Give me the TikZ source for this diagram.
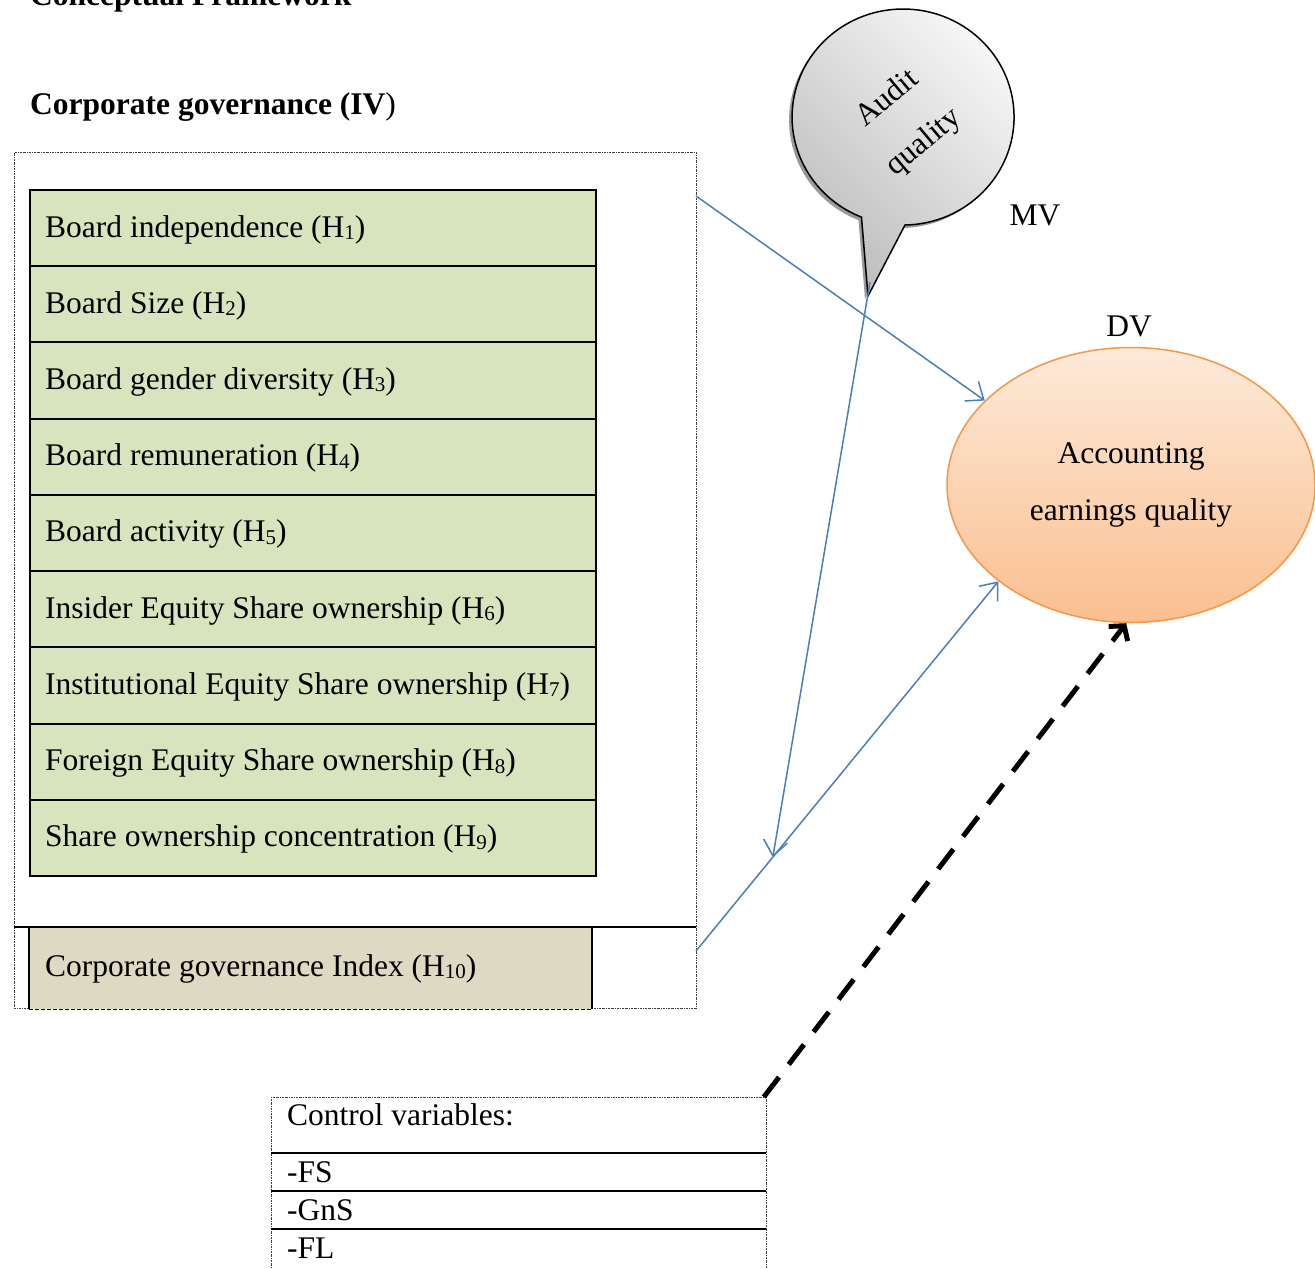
\documentclass[tikz,border=0pt]{standalone}
\usepackage{fontspec}
\setmainfont{Liberation Serif}
\usetikzlibrary{arrows.meta,shapes.geometric,calc}
\definecolor{cgreen}{HTML}{D7E4BD}
\definecolor{ctan}{HTML}{DDD9C3}
\definecolor{cblue}{HTML}{4A7EBB}
\definecolor{corange}{HTML}{F79646}
\definecolor{cpeachtop}{HTML}{FDEADA}
\definecolor{cpeachbot}{HTML}{FABF8F}
\newcommand\hsub[1]{\raisebox{-2.5pt}{\fontsize{21}{21}\selectfont #1}}
\tikzset{
  framestyle/.style={draw=black!75, line width=0.8pt, dash pattern=on 2pt off 1pt on 0.6pt off 1pt},
  varbox/.style={draw=black, line width=2pt, fill=cgreen, minimum width=566pt, minimum height=76.22pt, inner sep=0pt, anchor=north west},
  lbl/.style={anchor=base west, inner sep=0pt},
  barrow/.style={draw=cblue, line width=1.5pt, -{Straight Barb[length=15pt,width=24pt]}},
  dasharrow/.style={draw=black, line width=5pt, dash pattern=on 25pt off 16pt, -{Straight Barb[length=10pt,width=24pt]}},
  rule/.style={line width=2pt}
}
\begin{document}
\begin{tikzpicture}[x=1pt,y=-1pt,font=\fontsize{31.5}{38}\selectfont]
\useasboundingbox (0,0) rectangle (1315,1269);
% titles
\node[lbl,font=\fontsize{31.5}{38}\selectfont\bfseries] (title) at (30,5) {Conceptual Framework};
\node[lbl] (iv) at (30,114) {\textbf{Corporate governance (IV})};
% outer frame
\node[framestyle, minimum width=682pt, minimum height=856pt, anchor=north west, inner sep=0pt] (frame) at (14,152) {};
% variable boxes
\foreach \i/\txt in {1/Board independence (H\hsub{1}),
                     2/Board Size (H\hsub{2}),
                     3/Board gender diversity (H\hsub{3}),
                     4/Board remuneration (H\hsub{4}),
                     5/Board activity (H\hsub{5}),
                     6/Insider Equity Share ownership (H\hsub{6}),
                     7/Institutional Equity Share ownership (H\hsub{7}),
                     8/Foreign Equity Share ownership (H\hsub{8}),
                     9/Share ownership concentration (H\hsub{9})}{
  \node[varbox] (b\i) at (29,{189+(\i-1)*76.22}) {};
  \node[lbl] (t\i) at (45,{189+(\i-1)*76.22+48}) {\txt};
}
% index row
\draw[rule] (14,927) -- (696,927);
\node[fill=ctan, minimum width=563pt, minimum height=81pt, anchor=north west, inner sep=0pt] (idx) at (29,928) {};
\draw[rule] (idx.north west) -- (idx.south west);
\draw[rule] (idx.north east) -- (idx.south east);
\draw[line width=1.5pt, dash pattern=on 4pt off 2pt] (idx.south west) -- (idx.south east);
\node[lbl] (tidx) at (45,976) {Corporate governance Index (H\hsub{10})};
% speech bubble (shadow, then body)
\fill[black!40]
  (902,228) arc[start angle=89, end angle=-248, x radius=111, y radius=108] -- (865,299) -- cycle;
\shade[left color=black!26, right color=black!4, shading angle=135, draw=black, line width=1.5pt]
  (905,225) arc[start angle=89, end angle=-248, x radius=111, y radius=108] -- (868,296) -- cycle;
\node[rotate=40, align=center, font=\fontsize{31.5}{57}\selectfont] (aq) at (906,121) {Audit\\quality};
\coordinate (tip) at (870,282);
\node (mv) at (1035,215) {MV};
\node (dv) at (1129,326) {DV};
% dependent variable
\node[ellipse, draw=corange, line width=1.5pt, top color=cpeachtop, bottom color=cpeachbot,
      minimum width=368pt, minimum height=275pt, inner sep=0pt, align=center,
      font=\fontsize{31.5}{57}\selectfont] (aeq) at (1131,485) {Accounting\\earnings quality};
% connectors
\coordinate (s1) at (696,196);
\coordinate (s3) at (696,951);
\draw[barrow] (s1) -- (aeq.150);
\draw[barrow] (s3) -- (aeq.216);
\coordinate (meet) at ($(s3)!0.254!(aeq.216)$);
\draw[barrow] (tip) -- (meet);
% control variables
\node[framestyle, minimum width=495pt, minimum height=200pt, anchor=north west, inner sep=0pt] (ctrl) at (271,1097) {};
\draw[rule] (271,1153) -- (766,1153);
\draw[rule] (271,1191) -- (766,1191);
\draw[rule] (271,1229) -- (766,1229);
\node[lbl] (c0) at (287,1125) {Control variables:};
\node[lbl] (c1) at (287,1182) {-FS};
\node[lbl] (c2) at (287,1220) {-GnS};
\node[lbl] (c3) at (287,1258) {-FL};
\draw[dasharrow] ($(ctrl.north east)+(-3,0)$) -- (aeq.268);
\end{tikzpicture}
\end{document}
